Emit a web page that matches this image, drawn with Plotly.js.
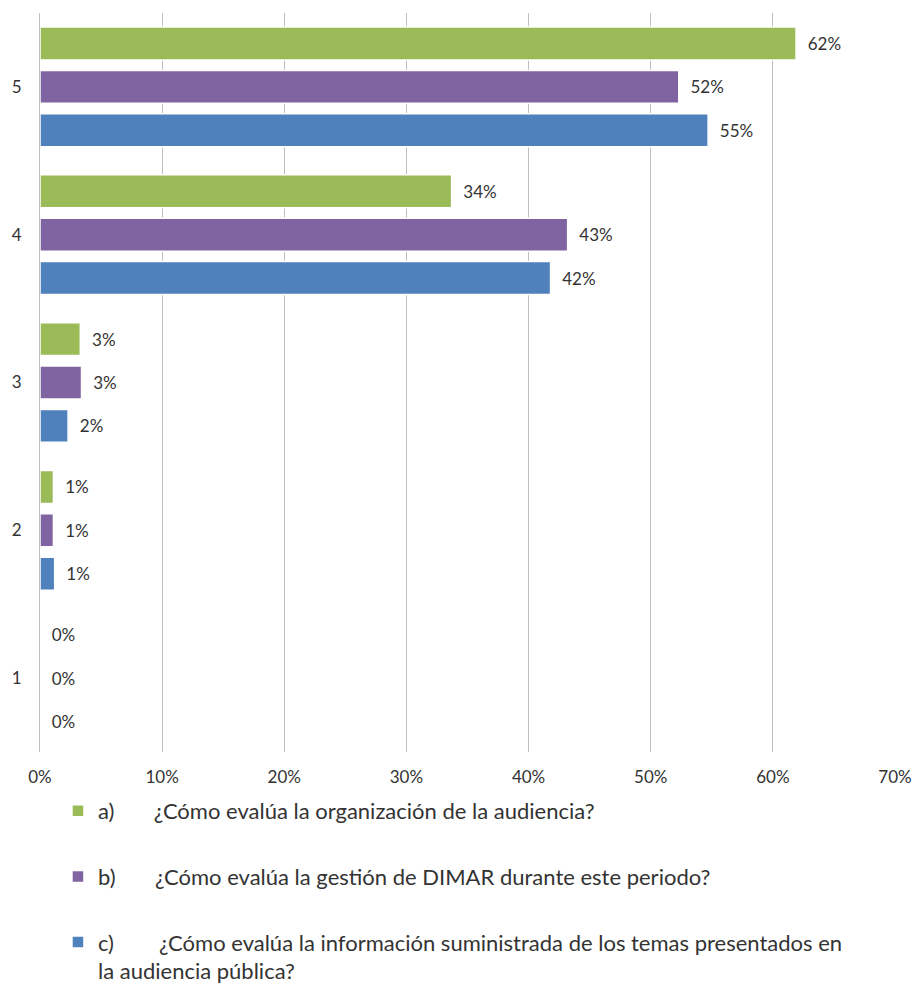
<!DOCTYPE html>
<html>
<head>
<meta charset="utf-8">
<script src="https://cdn.plot.ly/plotly-3.0.1.min.js"></script>
<style>html,body{margin:0;padding:0;background:#fff;}#chart{width:914px;height:988px;}</style>
</head>
<body>
<div id="chart"></div>
<script>
// Categories (rating 5 at top)
const categories = ['5', '4', '3', '2', '1'];
// Series values in percent
const seriesA = [61.9, 33.7, 3.3, 1.1, 0];   // a) organización de la audiencia
const seriesB = [52.3, 43.2, 3.4, 1.1, 0];   // b) gestión de DIMAR
const seriesC = [54.7, 41.8, 2.3, 1.2, 0];   // c) información suministrada
const NB = '\u00A0';
const seriesNames = [
  'a)' + NB.repeat(7) + '¿Cómo evalúa la organización de la audiencia?',
  'b)' + NB.repeat(7) + '¿Cómo evalúa la gestión de DIMAR durante este periodo?',
  'c)' + NB.repeat(8) + '¿Cómo evalúa la información suministrada de los temas presentados en<br>la audiencia pública?'
];
const colors = ['#9BBB59', '#8064A2', '#4F81BD'];
const xTickVals = [0, 10, 20, 30, 40, 50, 60, 70];
const xTickText = ['0%', '10%', '20%', '30%', '40%', '50%', '60%', '70%'];

const font = 'Lato, "Open Sans", sans-serif';
const allSeries = [seriesA, seriesB, seriesC];
const traces = allSeries.map((vals, i) => ({
  type: 'bar',
  orientation: 'h',
  y: categories,
  x: vals,
  name: seriesNames[i],
  legendgroup: 'g' + i,
  marker: { color: colors[i], line: { color: '#ffffff', width: 1.5 } },
  text: vals.map(v => NB.repeat(2) + Math.round(v) + '%'),
  textposition: 'outside',
  textfont: { family: font, size: 17, color: '#333333' },
  cliponaxis: false,
  hoverinfo: 'none'
}));

const layout = {
  width: 914,
  height: 988,
  margin: { l: 40, r: 19, t: 13, b: 236, autoexpand: false },
  paper_bgcolor: '#ffffff',
  plot_bgcolor: '#ffffff',
  barmode: 'group',
  bargap: 0.12,
  bargroupgap: 0.24,
  font: { family: font, size: 17, color: '#333333' },
  xaxis: {
    range: [0, 70],
    tickvals: xTickVals,
    ticktext: xTickText,
    showgrid: true,
    gridcolor: '#BFBFBF',
    gridwidth: 1,
    zeroline: false,
    showline: false,
    ticks: '',
    ticklabelstandoff: 13,
    tickfont: { family: font, size: 17, color: '#333333' },
    fixedrange: true
  },
  yaxis: {
    type: 'category',
    autorange: 'reversed',
    showgrid: false,
    zeroline: false,
    showline: true,
    linecolor: '#BFBFBF',
    linewidth: 1,
    ticks: '',
    ticklabelstandoff: 14,
    tickfont: { family: font, size: 17, color: '#333333' },
    fixedrange: true
  },
  showlegend: true,
  legend: {
    orientation: 'v',
    x: 0.021,
    xanchor: 'left',
    y: -0.0514,
    yanchor: 'top',
    traceorder: 'grouped',
    tracegroupgap: 34,
    valign: 'top',
    font: { family: font, size: 22, color: '#333333' },
    bgcolor: 'rgba(0,0,0,0)'
  }
};

Plotly.newPlot('chart', traces, layout, { displayModeBar: false, staticPlot: true });
</script>
</body>
</html>
